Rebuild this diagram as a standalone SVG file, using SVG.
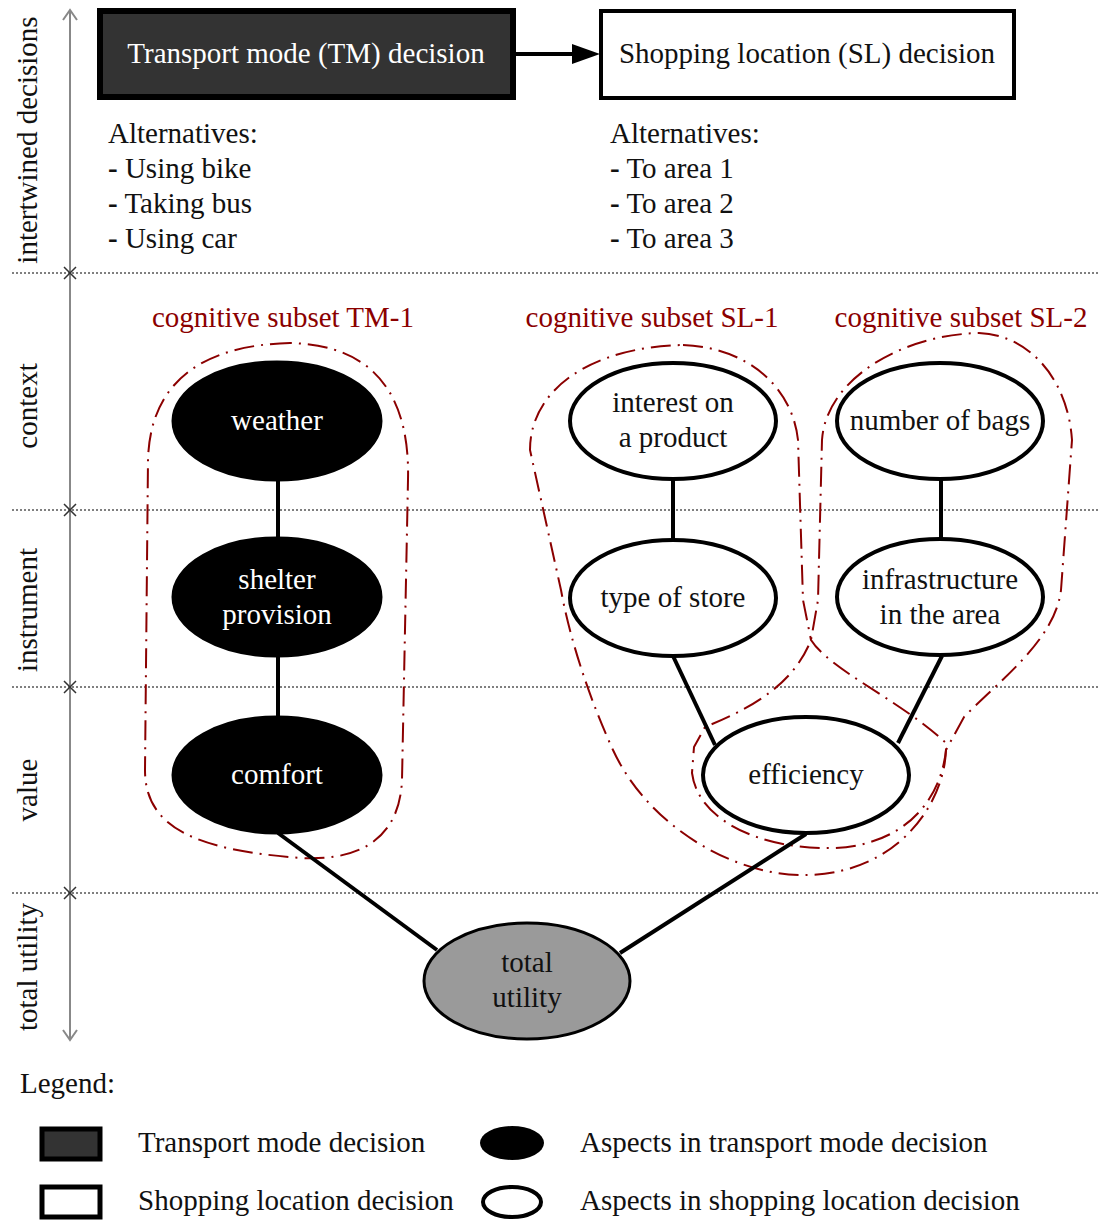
<svg xmlns="http://www.w3.org/2000/svg" width="1102" height="1220" viewBox="0 0 1102 1220">
<style>
text{font-family:"Liberation Serif","Times New Roman",serif;font-size:29px;fill:#111}
.c{text-anchor:middle}
.w{fill:#fff}
.red{fill:#8b0000}
.b{font-weight:bold}
.dot{stroke:#000;stroke-width:1;stroke-dasharray:2,2;fill:none}
.tm{fill:#000;stroke:#000;stroke-width:3}
.sl{fill:#fff;stroke:#000;stroke-width:4}
.edge{stroke:#000;stroke-width:4;fill:none}
.sub{fill:none;stroke:#8b0000;stroke-width:2;stroke-dasharray:20,7,2,7}
.ax{stroke:#888;stroke-width:2;fill:none}
.x{stroke:#333;stroke-width:1.5}
</style>
<rect width="1102" height="1220" fill="#fff"/>

<g id="axis">
<line class="ax" x1="70" y1="10" x2="70" y2="1040"/>
<path class="ax" d="M63,20 L70,10 L77,20"/>
<path class="ax" d="M63,1030 L70,1040 L77,1030"/>
<line class="dot" x1="12" y1="273" x2="1100" y2="273"/>
<line class="dot" x1="12" y1="510" x2="1100" y2="510"/>
<line class="dot" x1="12" y1="687" x2="1100" y2="687"/>
<line class="dot" x1="12" y1="893" x2="1100" y2="893"/>
<path class="x" d="M64,267 L76,279 M76,267 L64,279"/>
<path class="x" d="M64,504 L76,516 M76,504 L64,516"/>
<path class="x" d="M64,681 L76,693 M76,681 L64,693"/>
<path class="x" d="M64,887 L76,899 M76,887 L64,899"/>
<text class="c" transform="translate(37,140) rotate(-90)">intertwined decisions</text>
<text class="c" transform="translate(37,406) rotate(-90)">context</text>
<text class="c" transform="translate(37,610) rotate(-90)">instrument</text>
<text class="c" transform="translate(37,790) rotate(-90)">value</text>
<text class="c" transform="translate(37,967) rotate(-90)">total utility</text>
</g>

<g id="tm-decision">
<rect x="100" y="11" width="413" height="86" fill="#333" stroke="#000" stroke-width="6"/>
<text class="c w" x="306" y="63">Transport mode (TM) decision</text>
</g>
<g id="sl-decision">
<rect x="601" y="11" width="413" height="87" fill="#fff" stroke="#000" stroke-width="4"/>
<text class="c" x="807" y="63">Shopping location (SL) decision</text>
</g>

<g id="tm-alternatives">
<text x="108" y="143">Alternatives:</text>
<text x="108" y="178"><tspan class="b">-</tspan> Using bike</text>
<text x="108" y="213"><tspan class="b">-</tspan> Taking bus</text>
<text x="108" y="248"><tspan class="b">-</tspan> Using car</text>
</g>
<g id="sl-alternatives">
<text x="610" y="143">Alternatives:</text>
<text x="610" y="178"><tspan class="b">-</tspan> To area 1</text>
<text x="610" y="213"><tspan class="b">-</tspan> To area 2</text>
<text x="610" y="248"><tspan class="b">-</tspan> To area 3</text>
</g>

<g id="subsets">
<text class="c red" x="283" y="327">cognitive subset TM-1</text>
<text class="c red" x="652" y="327">cognitive subset SL-1</text>
<text class="c red" x="961" y="327">cognitive subset SL-2</text>
<path class="sub" d="M290,343 C205,345 150,380 148,460 L145,770 C145,830 200,850 300,858 C370,862 400,830 402,780 L408,480 C410,400 378,345 290,343 Z"/>
<path class="sub" d="M683,345 C745,347 792,385 798,440 L803,600 L811,640 C830,670 900,700 946,743 C948,800 900,872 809,875 C740,878 650,830 613,750 C590,700 570,640 561,590 L530,450 C530,390 590,347 683,345 Z"/>
<path class="sub" d="M979,333 C1030,335 1068,380 1072,440 L1061,590 C1055,640 1000,680 964,717 L946,750 C940,805 900,845 835,848 C760,850 698,820 692,773 L694,747 L705,727 C760,705 795,680 811,640 L818,600 L822,440 C826,380 900,335 979,333 Z"/>
</g>

<g id="connectors">
<line class="edge" x1="514" y1="54" x2="576" y2="54"/>
<path d="M572,44 L600,54 L572,64 Z" fill="#000"/>
<line class="edge" stroke-width="5" x1="278" y1="481" x2="278" y2="537"/>
<line class="edge" stroke-width="5" x1="278" y1="657" x2="278" y2="716"/>
<line class="edge" x1="673" y1="480" x2="673" y2="539"/>
<line class="edge" stroke-width="5" x1="941" y1="480" x2="941" y2="539"/>
<line class="edge" x1="673" y1="656" x2="715" y2="745"/>
<line class="edge" x1="942" y1="656" x2="898" y2="743"/>
<line class="edge" x1="278" y1="833" x2="437" y2="950"/>
<line class="edge" x1="806" y1="834" x2="620" y2="953"/>
</g>

<g id="weather"><ellipse class="tm" cx="277" cy="421" rx="104" ry="59"/><text class="c w" x="277" y="430">weather</text></g>
<g id="shelter"><ellipse class="tm" cx="277" cy="597" rx="104" ry="59"/><text class="c w" x="277" y="589">shelter</text><text class="c w" x="277" y="624">provision</text></g>
<g id="comfort"><ellipse class="tm" cx="277" cy="775" rx="104" ry="58"/><text class="c w" x="277" y="784">comfort</text></g>
<g id="interest"><ellipse class="sl" cx="673" cy="421" rx="103" ry="58"/><text class="c" x="673" y="412">interest on</text><text class="c" x="673" y="447">a product</text></g>
<g id="store"><ellipse class="sl" cx="673" cy="598" rx="103" ry="58"/><text class="c" x="673" y="607">type of store</text></g>
<g id="bags"><ellipse class="sl" cx="940" cy="421" rx="103" ry="58"/><text class="c" x="940" y="430">number of bags</text></g>
<g id="infra"><ellipse class="sl" cx="940" cy="597" rx="103" ry="58"/><text class="c" x="940" y="589">infrastructure</text><text class="c" x="940" y="624">in the area</text></g>
<g id="efficiency"><ellipse class="sl" cx="806" cy="775" rx="103" ry="58"/><text class="c" x="806" y="784">efficiency</text></g>
<g id="total"><ellipse cx="527" cy="981" rx="103" ry="58" fill="#9a9a9a" stroke="#000" stroke-width="3"/><text class="c" x="527" y="972">total</text><text class="c" x="527" y="1007">utility</text></g>

<g id="legend">
<text x="20" y="1093">Legend:</text>
<rect x="42" y="1129" width="58" height="30" fill="#333" stroke="#000" stroke-width="5"/>
<text x="138" y="1152">Transport mode decision</text>
<rect x="42" y="1187" width="58" height="30" fill="#fff" stroke="#000" stroke-width="5"/>
<text x="138" y="1210">Shopping location decision</text>
<ellipse cx="512" cy="1143" rx="32" ry="17" fill="#000"/>
<text x="580" y="1152">Aspects in transport mode decision</text>
<ellipse cx="512" cy="1202" rx="29" ry="15" fill="#fff" stroke="#000" stroke-width="4"/>
<text x="580" y="1210">Aspects in shopping location decision</text>
</g>
</svg>
